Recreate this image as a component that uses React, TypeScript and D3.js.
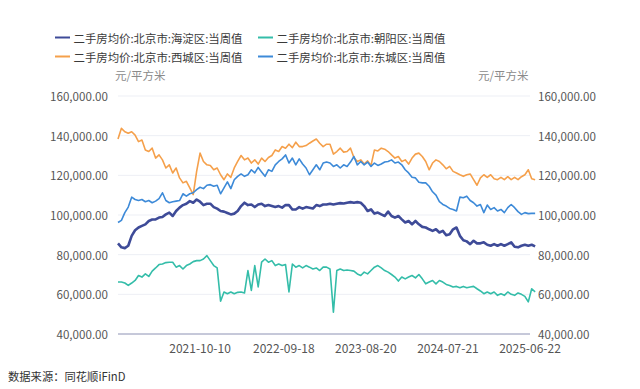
import React, { useEffect } from 'react';
import * as d3 from 'd3';

// weekly prices (sampled every 2 weeks), 元/平方米
const seriesNames = [
  '二手房均价:北京市:海淀区:当周值',
  '二手房均价:北京市:朝阳区:当周值',
  '二手房均价:北京市:西城区:当周值',
  '二手房均价:北京市:东城区:当周值',
];
const seriesColors = ['#3E4B98', '#34BDA9', '#F5A04B', '#3D8AD8'];
const startDate = '2020-11-08';
const endDate = '2025-06-22';
const tickLabels = ['2021-10-10', '2022-09-18', '2023-08-20', '2024-07-21', '2025-06-22'];
const yTicks = [40000, 60000, 80000, 100000, 120000, 140000, 160000];

const haidian = [
  85700, 83700, 83300, 84500, 89500, 92300, 93700, 94500, 95300, 97000,
  97700, 97800, 98700, 99000, 100300, 101200, 99500, 102000, 103700, 105000,
  105700, 107000, 106200, 107800, 106700, 105000, 105700, 105700, 104000, 103200,
  102000, 101700, 101000, 100300, 100700, 102000, 104500, 106200, 105000, 105300,
  104000, 105300, 105700, 104500, 105000, 104500, 104000, 104500, 103700, 105000,
  105000, 102800, 102800, 104000, 103200, 104000, 103700, 103300, 105000, 104500,
  105300, 105300, 105700, 105300, 105700, 106000, 105800, 106200, 106500, 106200,
  106500, 106200, 104500, 102000, 102800, 100700, 101200, 100300, 99500, 101700,
  99500, 98700, 99500, 97800, 96200, 97000, 95300, 97000, 95300, 94000,
  93700, 92800, 92000, 92800, 91200, 92000, 89800, 90300, 92800, 93700,
  89500, 87300, 86700, 85300, 87000, 85700, 85700, 86200, 85000, 84500,
  85300, 84500, 85300, 84500, 85300, 86200, 84000, 83700, 84500, 85000,
  84500, 85000, 84200,
];
const chaoyang = [
  66200, 66200, 65700, 64500, 65700, 67000, 69500, 68700, 70300, 69000,
  71700, 73300, 75000, 75300, 76000, 76200, 76200, 73700, 74500, 72800,
  74500, 75300, 76500, 77000, 77000, 77800, 79500, 77000, 74500, 73300,
  56500, 61200, 60300, 61200, 60300, 61000, 61200, 60700, 72000, 62000,
  74500, 63700, 76200, 77800, 76200, 77000, 74500, 75300, 74500, 75000,
  61200, 75300, 73700, 74500, 73300, 74500, 73700, 72800, 73300, 72000,
  73700, 73700, 72800, 51000, 72000, 72800, 72000, 72300, 72000, 71700,
  70300, 69500, 71200, 70300, 72000, 73700, 74500, 73300, 72000, 71200,
  70000, 68700, 66700, 68700, 67800, 68700, 69500, 68300, 70000, 67800,
  65300, 66200, 67000, 65300, 67000, 66200, 65000, 64500, 63700, 64000,
  63300, 64000, 63300, 63700, 64000, 62800, 61700, 60300, 61200, 60300,
  61200, 59500, 60300, 59500, 61200, 60000, 59500, 60700, 60000, 59000,
  56200, 62800, 61200,
];
const xicheng = [
  138300, 143700, 142000, 141200, 142000, 140300, 137000, 137800, 132800, 132000,
  133700, 128700, 130300, 127800, 123700, 125300, 121200, 123700, 118700, 116200,
  117000, 113700, 110300, 122000, 131200, 127000, 125300, 125000, 122800, 123700,
  120300, 117800, 120700, 119000, 123700, 127000, 130000, 127800, 128700, 126200,
  127800, 125700, 128700, 127000, 129000, 130000, 132800, 132000, 134500, 133700,
  135700, 134000, 136700, 134500, 134500, 135000, 136200, 137300, 138300, 136200,
  134500, 135700, 135700, 130700, 132000, 133700, 131700, 132000, 133700, 129000,
  127000, 127800, 125700, 127300, 125000, 132800, 132300, 133700, 133200, 132000,
  130300, 128700, 129500, 127000, 127800, 125700, 128700, 130700, 131200, 129500,
  127000, 122800, 126200, 127800, 127000, 125300, 123300, 124500, 122000, 121200,
  120300, 119500, 120300, 120700, 117800, 115000, 118700, 120300, 119000, 120300,
  118300, 117800, 119000, 117800, 119300, 117800, 119000, 117800, 119300, 120300,
  122800, 118300, 117800,
];
const dongcheng = [
  96200, 97300, 101200, 104000, 109000, 107800, 107300, 107800, 106700, 107300,
  106200, 107000, 108300, 111200, 107300, 106200, 106700, 107000, 107300, 110700,
  109500, 110700, 111200, 112800, 114000, 113300, 115000, 115300, 114500, 115000,
  110700, 113700, 116700, 113300, 117800, 119500, 120700, 119500, 120300, 122800,
  121200, 124000, 121700, 119500, 122800, 122000, 125300, 127000, 128300, 130300,
  126200, 128700, 125300, 128300, 125700, 123700, 120300, 122800, 125300, 122800,
  126200, 126700, 126200, 124500, 125300, 123700, 125300, 124500, 126700, 129500,
  125300, 127000, 125300, 126700, 124500, 126200, 125000, 125700, 126700, 127000,
  127800, 126200, 126700, 125300, 122800, 121200, 119000, 118700, 116500, 116200,
  116200, 114500, 111700, 110000, 106700, 105300, 104500, 103300, 102800, 102000,
  109000, 108700, 109500, 107300, 106200, 104500, 105300, 101200, 105000, 102800,
  103700, 102000, 102800, 101200, 103700, 105300, 103700, 101700, 100300, 101200,
  100700, 100800, 100800,
];

const seriesValues = [haidian, chaoyang, xicheng, dongcheng];
const seriesWidths = [2.6, 1.6, 1.6, 1.6];

const FONT = '"Microsoft YaHei", "Noto Sans CJK SC", sans-serif';

export default function App() {
  useEffect(() => {
    document.body.style.margin = '0';
  }, []);

  const W = 640, H = 389;
  const left = 118, right = 530, top = 96, bottom = 334;
  const parse = d3.utcParse('%Y-%m-%d');
  const start = parse(startDate) as Date;
  const dates = haidian.map((_, i) => d3.utcDay.offset(start, 14 * i));

  const x = d3.scaleUtc().domain([start, parse(endDate) as Date]).range([left, right]);
  const y = d3.scaleLinear().domain([40000, 160000]).range([bottom, top]);
  const fmt = d3.format(',.2f');

  const line = d3.line<number>()
    .x((_, i) => x(dates[i]))
    .y(d => y(d));

  return (
    <svg width={W} height={H} style={{ display: 'block', fontFamily: FONT }}>
      <rect width={W} height={H} fill="#fff" />

      {/* legend */}
      {seriesNames.map((name, i) => {
        const lx = i % 2 === 0 ? 55 : 258;
        const ly = i < 2 ? 37.5 : 56.5;
        return (
          <g key={name}>
            <line x1={lx} x2={lx + 15} y1={ly} y2={ly} stroke={seriesColors[i]} strokeWidth={2} />
            <text x={lx + 18.5} y={ly} dominantBaseline="central" fontSize={11.4} fill="#3a3a3a">{name}</text>
          </g>
        );
      })}

      {/* axis names */}
      <text x={115} y={75} dominantBaseline="central" fontSize={11.5} fill="#8a8a8a">元/平方米</text>
      <text x={478} y={75} dominantBaseline="central" fontSize={11.5} fill="#8a8a8a">元/平方米</text>

      {/* grid + y labels */}
      {yTicks.map(t => (
        <g key={t}>
          {t > 40000 && (
            <line x1={left} x2={right} y1={y(t)} y2={y(t)} stroke="#EDEFF5" strokeWidth={1} />
          )}
          <text x={108} y={y(t)} textAnchor="end" dominantBaseline="central" fontSize={11.6} fill="#555">{fmt(t)}</text>
          <text x={538} y={y(t)} textAnchor="start" dominantBaseline="central" fontSize={11.6} fill="#555">{fmt(t)}</text>
        </g>
      ))}

      {/* x axis */}
      <line x1={left} x2={right} y1={bottom} y2={bottom} stroke="#8D92B4" strokeWidth={1} />
      {tickLabels.map(t => (
        <text key={t} x={x(parse(t) as Date)} y={347} textAnchor="middle" dominantBaseline="central" fontSize={12} fill="#555">{t}</text>
      ))}

      {/* series */}
      {seriesValues.map((vals, i) => (
        <path key={seriesNames[i]} d={line(vals) ?? ''} fill="none" stroke={seriesColors[i]}
          strokeWidth={seriesWidths[i]} strokeLinejoin="round" />
      ))}

      <text x={8} y={376} dominantBaseline="central" fontSize={11.3} fill="#333">数据来源：同花顺iFinD</text>
    </svg>
  );
}
